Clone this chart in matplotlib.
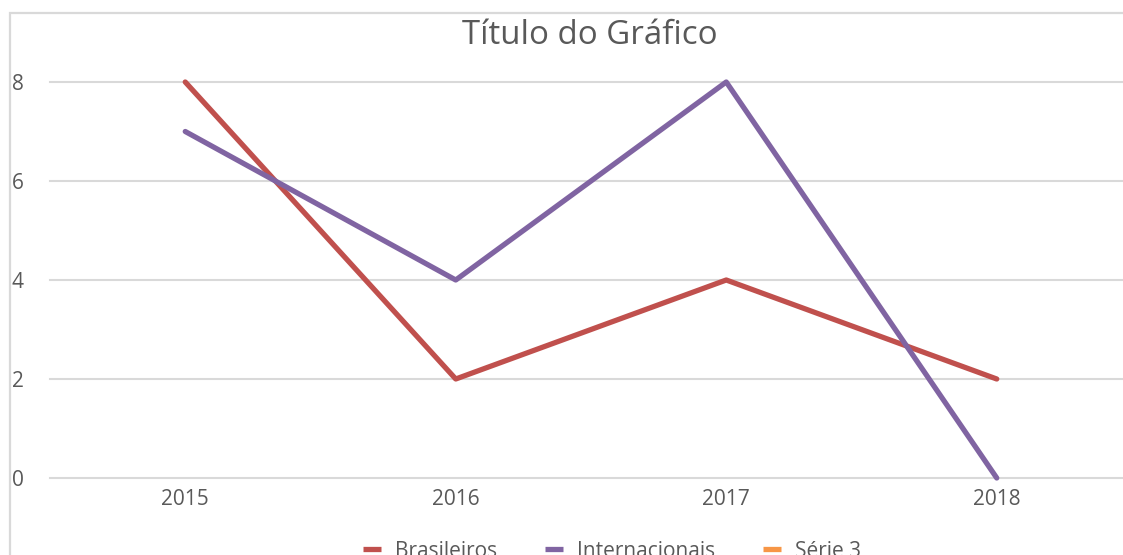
import matplotlib.pyplot as plt
from matplotlib.patches import Rectangle

plt.rcParams['font.family'] = ['Open Sans', 'DejaVu Sans']

anos = ['2015', '2016', '2017', '2018']
brasileiros = [8, 2, 4, 2]
internacionais = [7, 4, 8, 0]
serie3 = []

cor_grade = '#D9D9D9'
cor_texto = '#595959'

fig = plt.figure(figsize=(11.23, 5.55), dpi=100)
fig.add_artist(Rectangle((10 / 1123, -0.1), 1.2, (555 - 13) / 555 + 0.1,
                         transform=fig.transFigure, fill=False,
                         edgecolor=cor_grade, lw=1.6, zorder=0))

ax = fig.add_axes([50 / 1123, 77 / 555, 1082 / 1123, 396 / 555])
x = range(len(anos))
l1, = ax.plot(x, brasileiros, color='#C0504D', lw=3.8, solid_capstyle='round',
              label='Brasileiros', clip_on=False, zorder=3)
l2, = ax.plot(x, internacionais, color='#8064A2', lw=3.8, solid_capstyle='round',
              label='Internacionais', clip_on=False, zorder=3)
l3, = ax.plot(serie3, serie3, color='#F79646', lw=3.8, label='Série 3')

ax.set_xlim(-0.5, 3.5)
ax.set_ylim(0, 8)
ax.set_xticks(list(x))
ax.set_xticklabels(anos)
ax.set_yticks([0, 2, 4, 6, 8])
for s in ax.spines.values():
    s.set_visible(False)
ax.grid(axis='y', color=cor_grade, lw=1.5)
for g in ax.get_ygridlines():
    g.set_clip_on(False)
ax.set_axisbelow(True)
ax.tick_params(length=0, labelcolor=cor_texto, labelsize=15)
ax.tick_params(axis='y', pad=19)
ax.tick_params(axis='x', pad=8)

fig.text(590 / 1123, 1 - 35 / 555, 'Título do Gráfico', ha='center', va='center',
         fontsize=23.8, color=cor_texto)

# legenda cortada na borda de baixo, como na imagem
leg = fig.legend(handles=[l1, l2, l3], loc='upper center', ncol=3,
                 bbox_to_anchor=(612 / 1123, 33 / 555), frameon=False,
                 fontsize=15, labelcolor=cor_texto, handlelength=0.86,
                 handletextpad=0.67, columnspacing=2.3)
for h in leg.legend_handles:
    h.set_solid_capstyle('butt')

fig.savefig('out.png', dpi=100)
